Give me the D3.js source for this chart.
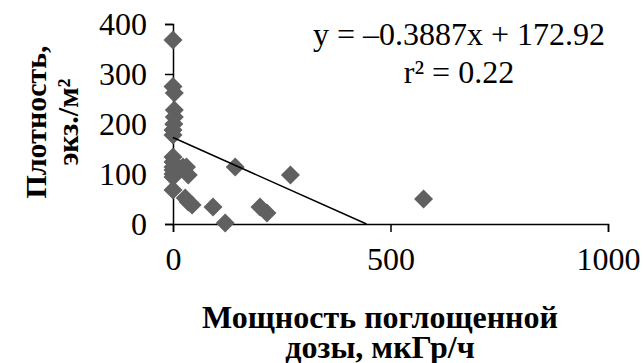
<!DOCTYPE html>
<html>
<head>
<meta charset="utf-8">
<script src="https://cdn.jsdelivr.net/npm/d3@7"></script>
<style>
  body { margin: 0; background: #fff; }
  svg text { font-family: "Liberation Serif", "Times New Roman", serif; fill: #000; }
</style>
</head>
<body>
<svg id="chart" width="644" height="363"></svg>
<script>
// dose rate (x) and density (y)
const doseRate = [0, 0, 3, 3, 3, 2, 0, 0, 0, 0, 0, 0, 23, 31, 0, 35, 0, 0, 28, 35, 44, 92, 120, 143, 200, 216, 270, 576];
const density = [368, 275, 262, 228, 214, 200, 188, 178, 134, 124, 114, 108, 114, 114, 100, 98, 94, 68, 52, 44, 38, 34, 2, 114, 34, 22, 98, 50];

const slope = -0.3887;
const intercept = 172.92;
const xTicks = [0, 500, 1000];
const yTicks = [0, 100, 200, 300, 400];

const svg = d3.select("#chart");

const x = d3.scaleLinear().domain([0, 1000]).range([173, 608]);
const y = d3.scaleLinear().domain([0, 400]).range([224, 24]);

// axes
const xAxis = svg.append("g")
  .attr("transform", `translate(0,${y(0)})`)
  .call(d3.axisBottom(x).tickValues(xTicks).tickSize(8).tickPadding(15).tickFormat(d3.format("d")));
const yAxis = svg.append("g")
  .attr("transform", `translate(${x(0)},0)`)
  .call(d3.axisLeft(y).tickValues(yTicks).tickSize(8).tickPadding(18).tickFormat(d3.format("d")));

[xAxis, yAxis].forEach((g) => {
  g.select(".domain").attr("stroke", "#000").attr("stroke-width", 1.5);
  g.selectAll(".tick line").attr("stroke", "#000").attr("stroke-width", 1.5);
  g.selectAll(".tick text")
    .style("font-family", "'Liberation Serif', serif")
    .style("font-size", "32px")
    .attr("fill", "#000");
});
yAxis.selectAll(".tick text").attr("dy", "0.34em");

// points (diamonds)
const pts = doseRate.map((d, i) => ({ x: d, y: density[i] }));
const r = 9.5;
svg.append("g")
  .selectAll("path")
  .data(pts)
  .enter()
  .append("path")
  .attr("d", (d) => {
    const cx = x(d.x);
    const cy = y(d.y);
    return `M${cx},${cy - r}L${cx + r},${cy}L${cx},${cy + r}L${cx - r},${cy}Z`;
  })
  .attr("fill", "#606060");

// trend line, clipped at y = 0
const xEnd = -intercept / slope;
svg.append("line")
  .attr("x1", x(0))
  .attr("y1", y(intercept))
  .attr("x2", x(xEnd))
  .attr("y2", y(0))
  .attr("stroke", "#000")
  .attr("stroke-width", 1.5);

// equation
svg.append("text")
  .attr("x", 459).attr("y", 45)
  .attr("text-anchor", "middle")
  .style("font-size", "32px")
  .text("y = \u20130.3887x + 172.92");
svg.append("text")
  .attr("x", 459).attr("y", 83)
  .attr("text-anchor", "middle")
  .style("font-size", "32px")
  .text("r\u00b2 = 0.22");

// axis titles
svg.append("text")
  .attr("x", 380).attr("y", 328)
  .attr("text-anchor", "middle")
  .style("font-size", "32px")
  .style("font-weight", "bold")
  .text("Мощность поглощенной");
svg.append("text")
  .attr("x", 380).attr("y", 358)
  .attr("text-anchor", "middle")
  .style("font-size", "32px")
  .style("font-weight", "bold")
  .text("дозы, мкГр/ч");

const yTitle = svg.append("g").attr("transform", "translate(0,122) rotate(-90)");
yTitle.append("text")
  .attr("x", 0).attr("y", 46)
  .attr("text-anchor", "middle")
  .style("font-size", "30px")
  .style("font-weight", "bold")
  .text("Плотность,");
yTitle.append("text")
  .attr("x", 0).attr("y", 78)
  .attr("text-anchor", "middle")
  .style("font-size", "30px")
  .style("font-weight", "bold")
  .text("экз./м²");
</script>
</body>
</html>
